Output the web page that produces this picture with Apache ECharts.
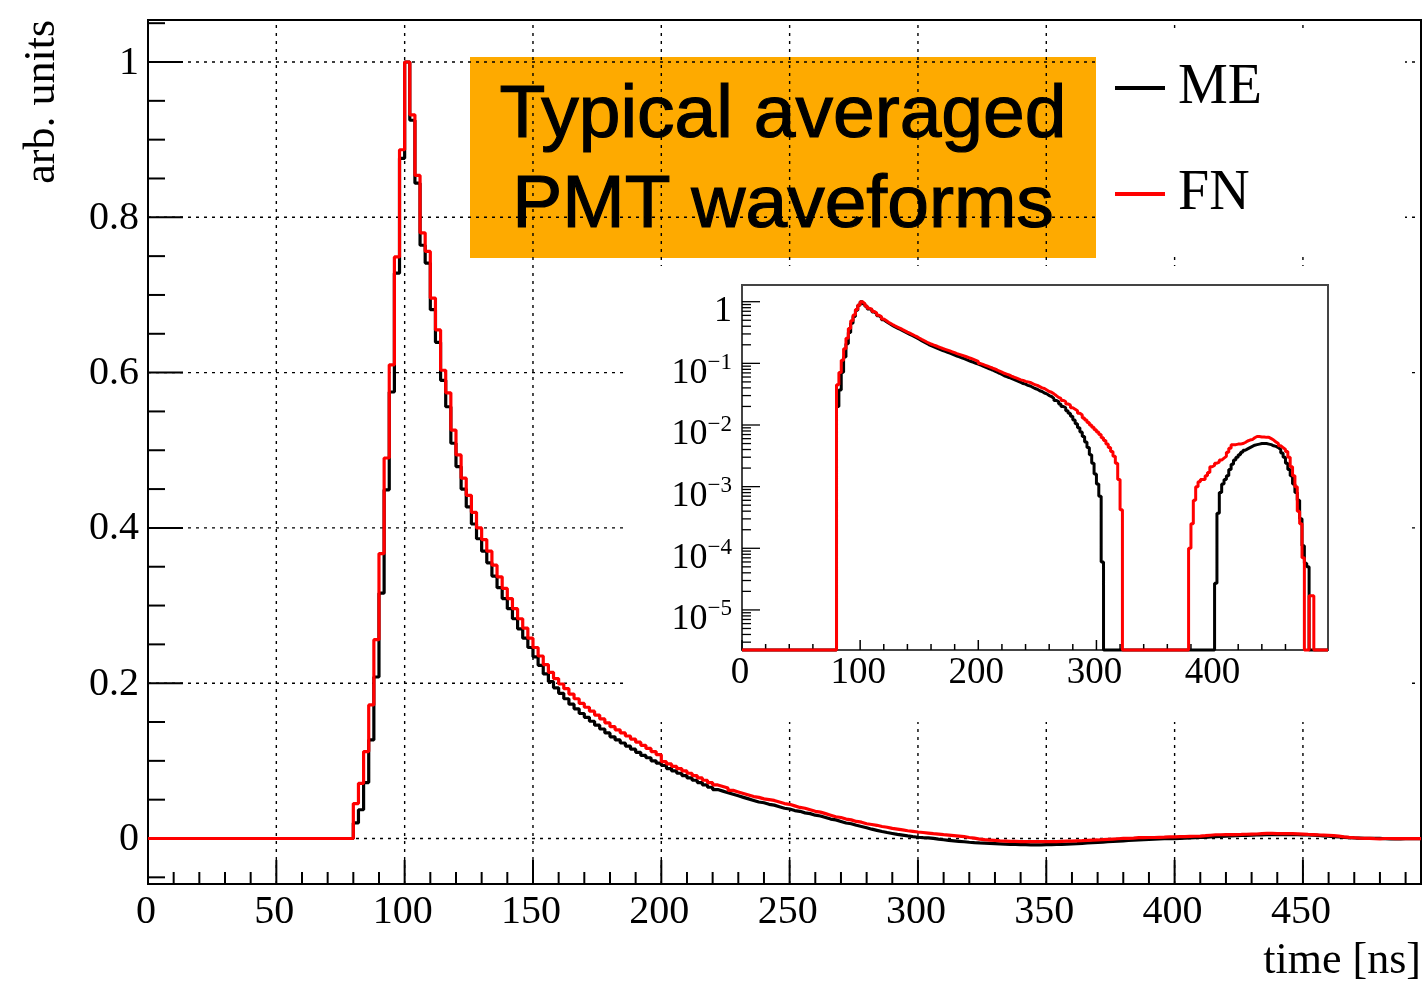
<!DOCTYPE html>
<html>
<head>
<meta charset="utf-8">
<script src="https://cdn.jsdelivr.net/npm/echarts@6/dist/echarts.min.js"></script>
<style>
  html, body { margin: 0; padding: 0; background: #fff; }
  #chart { width: 1426px; height: 982px; }
</style>
</head>
<body>
<div id="chart"></div>
<script>
// Averaged PMT waveforms, 2 ns bins starting at 80 ns (earlier bins are empty).
const BIN_START_NS = 80;
const BIN_WIDTH_NS = 2;
const TIME_MAX_NS = 496;

const FN_VALUES = [
  0.045, 0.071, 0.112, 0.172, 0.256, 0.367, 0.490, 0.610, 0.749, 0.887,
  1.000, 0.932, 0.854, 0.780, 0.756, 0.696, 0.655, 0.603, 0.574, 0.526,
  0.494, 0.464, 0.442, 0.420, 0.400, 0.385, 0.370, 0.352, 0.337, 0.322,
  0.309, 0.296, 0.283, 0.271, 0.258, 0.246, 0.235, 0.224, 0.214, 0.206,
  0.199, 0.193, 0.186, 0.180, 0.174, 0.169, 0.164, 0.159, 0.154, 0.149,
  0.144, 0.140, 0.136, 0.132, 0.128, 0.124, 0.120, 0.116, 0.112, 0.108,
  0.099, 0.096, 0.093, 0.090, 0.087, 0.084, 0.081, 0.078, 0.075, 0.072,
  0.069, 0.067, 0.065, 0.062, 0.060, 0.058, 0.056, 0.054, 0.053, 0.051,
  0.050, 0.049, 0.047, 0.045, 0.044, 0.042, 0.040, 0.039, 0.037, 0.035,
  0.034, 0.032, 0.030, 0.028, 0.027, 0.025, 0.024, 0.022, 0.021, 0.019,
  0.018, 0.017, 0.0155, 0.0145, 0.013, 0.012, 0.011, 0.010, 0.0092, 0.0084,
  0.0077, 0.0070, 0.0062, 0.0056, 0.0049, 0.0043, 0.0037, 0.0031, 0.0024, 0.0013,
  0.00042, -0.0008, -0.0015, -0.0020, -0.0025, -0.0030, -0.0033, -0.0036, -0.0038, -0.0040,
  -0.0040, -0.0041, -0.0041, -0.0041, -0.0040, -0.0040, -0.0039, -0.0037, -0.0035, -0.0033,
  -0.0030, -0.0028, -0.0025, -0.0022, -0.0019, -0.0015, -0.0011, -0.0007, -0.0003, 0.0001,
  0.00025, 0.0006, 0.0010, 0.0012, 0.0013, 0.0013, 0.0015, 0.0017, 0.0021, 0.0022,
  0.0024, 0.0025, 0.0027, 0.0029, 0.0031, 0.0036, 0.0042, 0.0048, 0.0048, 0.0049,
  0.0049, 0.0050, 0.0052, 0.0055, 0.0057, 0.0058, 0.0062, 0.0065, 0.0065, 0.0064,
  0.0064, 0.0063, 0.0063, 0.0060, 0.0057, 0.0053, 0.0050, 0.0046, 0.0043, 0.0040,
  0.0037, 0.0030, 0.0021, 0.0015, 0.0010, 0.0004, 0.00025, 0.00007, -0.0002, -0.0004,
  0.000017, 0.000017, -0.0002, -0.0002, -0.0001, -0.0001, -0.0001, -0.0001
];

const ME_VALUES = [
  0.020, 0.037, 0.072, 0.127, 0.208, 0.316, 0.449, 0.575, 0.728, 0.876,
  1.000, 0.925, 0.844, 0.764, 0.741, 0.681, 0.639, 0.590, 0.556, 0.509,
  0.479, 0.450, 0.427, 0.405, 0.386, 0.370, 0.355, 0.338, 0.323, 0.309,
  0.296, 0.283, 0.270, 0.258, 0.246, 0.234, 0.223, 0.212, 0.202, 0.194,
  0.187, 0.180, 0.173, 0.167, 0.161, 0.156, 0.151, 0.146, 0.141, 0.136,
  0.131, 0.127, 0.123, 0.119, 0.115, 0.111, 0.107, 0.104, 0.100, 0.097,
  0.094, 0.090, 0.087, 0.084, 0.081, 0.078, 0.075, 0.072, 0.069, 0.066,
  0.063, 0.061, 0.059, 0.057, 0.055, 0.053, 0.051, 0.049, 0.047, 0.046,
  0.044, 0.043, 0.041, 0.039, 0.038, 0.036, 0.035, 0.033, 0.032, 0.030,
  0.029, 0.027, 0.025, 0.024, 0.022, 0.020, 0.019, 0.017, 0.0155, 0.0138,
  0.012, 0.0105, 0.009, 0.0077, 0.0065, 0.0053, 0.0043, 0.0033, 0.0024, 0.0016,
  0.0011, 0.0007, 0.00006, -0.0008, -0.0016, -0.0024, -0.0030, -0.0036, -0.0042, -0.0048,
  -0.0053, -0.0057, -0.0060, -0.0063, -0.0066, -0.0069, -0.0072, -0.0075, -0.0077, -0.0079,
  -0.0080, -0.0081, -0.0081, -0.0081, -0.0080, -0.0079, -0.0077, -0.0075, -0.0072, -0.0069,
  -0.0066, -0.0062, -0.0058, -0.0054, -0.0050, -0.0046, -0.0042, -0.0038, -0.0034, -0.0030,
  -0.0026, -0.0022, -0.0018, -0.0014, -0.0011, -0.0008, -0.0005, -0.0003, -0.0002, -0.0001,
  0.000027, 0.00037, 0.0008, 0.0011, 0.0013, 0.0015, 0.0019, 0.0023, 0.0027, 0.0030,
  0.0033, 0.0036, 0.0039, 0.0041, 0.0043, 0.0045, 0.0047, 0.0048, 0.0049, 0.0050,
  0.0050, 0.0050, 0.0049, 0.0048, 0.0046, 0.0045, 0.0043, 0.0040, 0.0035, 0.0030,
  0.0024, 0.0019, 0.0015, 0.0011, 0.0008, 0.0006, 0.0003, 0.00011, 0.000057, 0.00005,
  -0.0003, -0.0004, -0.0004, -0.0004, -0.0003, -0.0003, -0.0002, -0.0002
];

// Axis ticks and labels
const MAIN_X_MAJOR = [0, 50, 100, 150, 200, 250, 300, 350, 400, 450];
const MAIN_X_MINOR_STEP = 10;
const MAIN_Y_MAJOR = [0, 0.2, 0.4, 0.6, 0.8, 1];
const MAIN_Y_LABELS = ['0', '0.2', '0.4', '0.6', '0.8', '1'];
const MAIN_Y_MINOR_STEP = 0.05;
const INSET_X_MAJOR = [0, 100, 200, 300, 400];
const INSET_X_MINOR_STEP = 20;
const INSET_DECADES = [0, -1, -2, -3, -4, -5];

const MAIN_Y_MIN = -0.0586, MAIN_Y_MAX = 1.0541;
const LOG_MIN = -5.65, LOG_MAX = 0.271;

const SERIF = '"Liberation Serif", "DejaVu Serif", serif';
const SERIF_FAMILY = 'Liberation Serif';

// histogram outline: one point per bin left edge, drawn with step:'end'
function histPoints(values, f) {
  const pts = [[0, f(0)]];
  values.forEach((v, i) => pts.push([BIN_START_NS + i * BIN_WIDTH_NS, f(v)]));
  pts.push([BIN_START_NS + values.length * BIN_WIDTH_NS, f(values[values.length - 1])]);
  return pts;
}
const lin = v => v;
const logOrFloor = v => (v > 0 ? Math.log10(v) : LOG_MIN);

function range(from, to, step) {
  const out = [];
  for (let k = 0; from + k * step <= to + 1e-9; k++) out.push(+(from + k * step).toFixed(6));
  return out;
}

// custom series helper drawing axis furniture through the axis scales
function furniture(name, gridIndex, values, z, build) {
  return {
    type: 'custom', name, coordinateSystem: 'cartesian2d',
    xAxisIndex: gridIndex, yAxisIndex: gridIndex, silent: true, z,
    animation: false,
    data: values.map(v => [v, 0]),
    renderItem: (params, api) => build(api.value(0), api, params.dataIndex)
  };
}

const isMultiple = (v, step) => Math.abs(v / step - Math.round(v / step)) < 1e-6;

const dotted = { stroke: '#000', lineWidth: 1.4, lineDash: [3, 5] };

const series = [
  // main: dotted grid
  furniture('grid-x', 0, MAIN_X_MAJOR.filter(v => v > 0), 1, (v, api) => {
    const a = api.coord([v, MAIN_Y_MIN]), b = api.coord([v, MAIN_Y_MAX]);
    return { type: 'line', shape: { x1: a[0], y1: a[1], x2: b[0], y2: b[1] }, style: dotted };
  }),
  furniture('grid-y', 0, MAIN_Y_MAJOR, 1, (v, api) => {
    const a = api.coord([0, v]), b = api.coord([TIME_MAX_NS, v]);
    return { type: 'line', shape: { x1: a[0], y1: a[1], x2: b[0], y2: b[1] }, style: dotted };
  }),
  // main: x ticks + labels
  furniture('ticks-x', 0, range(0, 490, MAIN_X_MINOR_STEP), 3, (v, api) => {
    const p = api.coord([v, MAIN_Y_MIN]);
    const major = isMultiple(v, 50);
    const children = [{ type: 'line', shape: { x1: p[0], y1: p[1], x2: p[0], y2: p[1] - (major ? 24 : 12) },
      style: { stroke: '#000', lineWidth: 2 } }];
    if (major) children.push({ type: 'text', style: { text: String(v), x: p[0] - 2, y: p[1] + 28,
      align: 'center', verticalAlign: 'middle', font: '40px ' + SERIF, fill: '#000' } });
    return { type: 'group', children };
  }),
  // main: y ticks + labels
  furniture('ticks-y', 0, range(-0.05, 1.05, MAIN_Y_MINOR_STEP), 3, (v, api) => {
    const p = api.coord([0, v]);
    const idx = MAIN_Y_MAJOR.findIndex(m => Math.abs(m - v) < 1e-6);
    const children = [{ type: 'line', shape: { x1: p[0], y1: p[1], x2: p[0] + (idx >= 0 ? 35 : 17), y2: p[1] },
      style: { stroke: '#000', lineWidth: 2 } }];
    if (idx >= 0) children.push({ type: 'text', style: { text: MAIN_Y_LABELS[idx], x: p[0] - 9, y: p[1] + 1,
      align: 'right', verticalAlign: 'middle', font: '40px ' + SERIF, fill: '#000' } });
    return { type: 'group', children };
  }),
  {
    type: 'line', name: 'ME', xAxisIndex: 0, yAxisIndex: 0, z: 4,
    step: 'end', showSymbol: false, symbol: 'none', animation: false,
    itemStyle: { color: '#000' }, lineStyle: { color: '#000', width: 3.2 },
    data: histPoints(ME_VALUES, lin)
  },
  {
    type: 'line', name: 'FN', xAxisIndex: 0, yAxisIndex: 0, z: 5,
    step: 'end', showSymbol: false, symbol: 'none', animation: false,
    itemStyle: { color: '#ff0000' }, lineStyle: { color: '#ff0000', width: 3.2 },
    data: histPoints(FN_VALUES, lin)
  },
  // inset: x ticks + labels
  furniture('inset-ticks-x', 1, range(0, 480, INSET_X_MINOR_STEP), 7, (v, api) => {
    const p = api.coord([v, LOG_MIN]);
    const major = isMultiple(v, 100);
    const children = [{ type: 'line', shape: { x1: p[0], y1: p[1], x2: p[0], y2: p[1] - (major ? 10 : 6) },
      style: { stroke: '#000', lineWidth: 1.5 } }];
    if (major) children.push({ type: 'text', style: { text: String(v), x: p[0] - 2, y: p[1] + 23,
      align: 'center', verticalAlign: 'middle', font: '37px ' + SERIF, fill: '#000' } });
    return { type: 'group', children };
  }),
  // inset: log y ticks (decades and 2..9 subdivisions) + labels
  furniture('inset-ticks-y', 1, (() => {
    const t = [];
    for (let d = -6; d <= 0; d++) for (let m = 1; m <= 9; m++) {
      const v = d + Math.log10(m);
      if (v >= LOG_MIN && v <= LOG_MAX) t.push(v);
    }
    return t;
  })(), 7, (v, api) => {
    const p = api.coord([0, v]);
    const major = isMultiple(v, 1);
    const children = [{ type: 'line', shape: { x1: p[0], y1: p[1], x2: p[0] + (major ? 18 : 9), y2: p[1] },
      style: { stroke: '#000', lineWidth: 1.3 } }];
    if (major && INSET_DECADES.includes(Math.round(v))) {
      const d = Math.round(v);
      const text = d === 0 ? '{b|1}' : '{b|10}{s|\u2212' + (-d) + '}';
      children.push({ type: 'text', style: { text, x: p[0] - 10, y: p[1] + 8, align: 'right', verticalAlign: 'middle',
        fontSize: 36, fontFamily: SERIF_FAMILY,
        rich: {
          b: { fontSize: 36, fontFamily: SERIF_FAMILY, fill: '#000', lineHeight: 40, verticalAlign: 'bottom' },
          s: { fontSize: 23, fontFamily: SERIF_FAMILY, fill: '#000', lineHeight: 22, verticalAlign: 'top' }
        } } });
    }
    return { type: 'group', children };
  }),
  {
    type: 'line', name: 'ME', xAxisIndex: 1, yAxisIndex: 1, z: 8, clip: false,
    step: 'end', showSymbol: false, symbol: 'none', animation: false,
    itemStyle: { color: '#000' }, lineStyle: { color: '#000', width: 3 },
    data: histPoints(ME_VALUES, logOrFloor)
  },
  {
    type: 'line', name: 'FN', xAxisIndex: 1, yAxisIndex: 1, z: 9, clip: false,
    step: 'end', showSymbol: false, symbol: 'none', animation: false,
    itemStyle: { color: '#ff0000' }, lineStyle: { color: '#ff0000', width: 3 },
    data: histPoints(FN_VALUES, logOrFloor)
  }
];

const hiddenAxis = (gridIndex, min, max) => ({
  type: 'value', gridIndex, min, max,
  axisLine: { show: false }, axisTick: { show: false }, axisLabel: { show: false }, splitLine: { show: false }
});

const chart = echarts.init(document.getElementById('chart'), null, { renderer: 'canvas', width: 1426, height: 982 });

chart.setOption({
  animation: false,
  backgroundColor: '#fff',
  grid: [
    { left: 148, top: 20, width: 1273, height: 864, show: true, borderColor: '#000', borderWidth: 2,
      backgroundColor: 'transparent', z: 0 },
    { left: 742, top: 285, width: 586, height: 365, show: true, borderColor: '#444', borderWidth: 2,
      backgroundColor: '#fff', z: 6 }
  ],
  xAxis: [hiddenAxis(0, 0, TIME_MAX_NS), hiddenAxis(1, 0, TIME_MAX_NS)],
  yAxis: [hiddenAxis(0, MAIN_Y_MIN, MAIN_Y_MAX), hiddenAxis(1, LOG_MIN, LOG_MAX)],
  legend: {
    data: ['ME', 'FN'], orient: 'vertical', left: 1100, top: 30, z: 10,
    backgroundColor: '#fff', padding: [25, 143, 25, 15], itemGap: 40,
    icon: 'rect', itemWidth: 50, itemHeight: 4, selectedMode: false,
    textStyle: { fontFamily: SERIF_FAMILY, fontSize: 56, color: '#000', lineHeight: 60, padding: [6, 0, 0, 8] }
  },
  graphic: [
    // white inset pad hiding the main grid behind the inset and its labels
    { type: 'rect', z: 2, silent: true, shape: { x: 623, y: 266, width: 785, height: 456 }, style: { fill: '#fff' } },
    { type: 'text', z: 11, style: { text: 'time [ns]', x: 1421, y: 961, align: 'right', verticalAlign: 'middle',
      font: '44px ' + SERIF, fill: '#000' } },
    { type: 'text', z: 11, x: 42, y: 20, rotation: Math.PI / 2,
      style: { text: 'arb. units', x: 0, y: 0, align: 'right', verticalAlign: 'middle', font: '44px ' + SERIF, fill: '#000' } },
    { type: 'group', z: 11, children: [
      { type: 'rect', shape: { x: 470, y: 57, width: 626, height: 201 }, style: { fill: '#FEAA00' } },
      { type: 'text', style: { text: 'Typical averaged\nPMT waveforms', x: 783, y: 161, align: 'center',
        verticalAlign: 'middle', font: '75px "Liberation Sans", Arial, sans-serif', lineHeight: 90,
        fill: '#000', stroke: '#000', lineWidth: 1.2 } }
    ] }
  ],
  series
});
</script>
</body>
</html>
